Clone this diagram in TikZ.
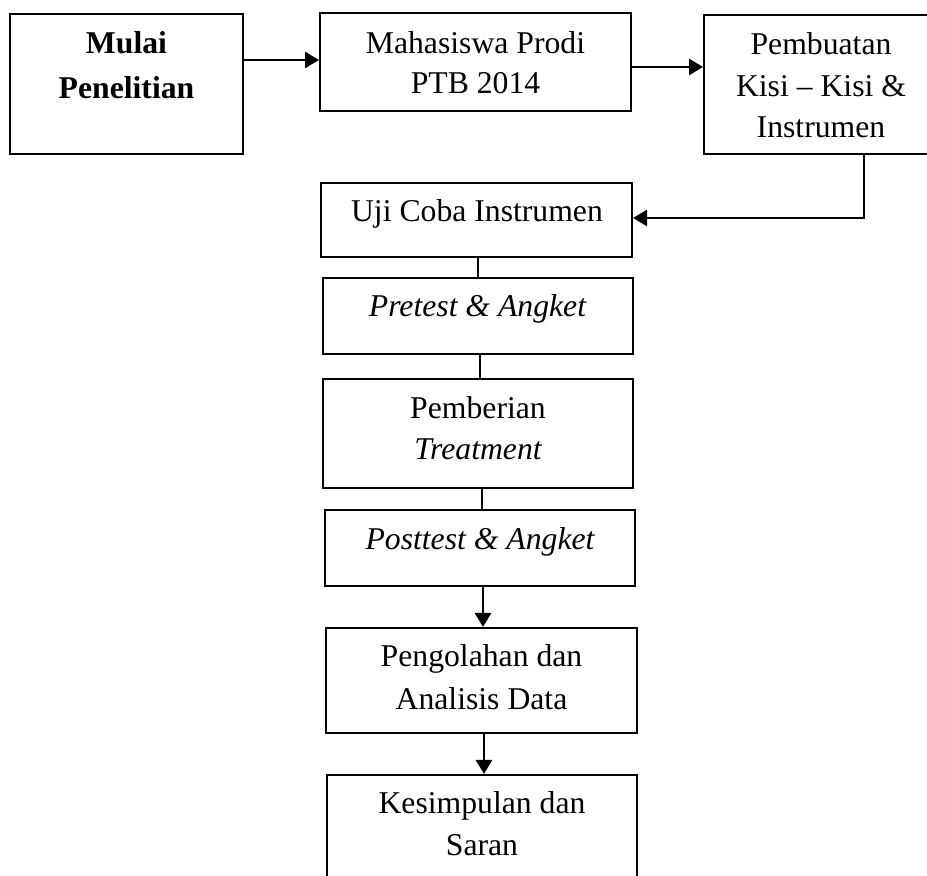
\documentclass[tikz,border=0pt]{standalone}
\usepackage{fontspec}
\setmainfont{Liberation Serif}
\usetikzlibrary{arrows.meta,fit}
\begin{document}
\begin{tikzpicture}[x=0.5pt,y=-0.5pt,
  box/.style={draw,line width=1pt,inner sep=0pt,fit={#1}},
  txt/.style={anchor=base,inner sep=0pt,font=\fontsize{15.85}{20.5}\selectfont},
  conn/.style={line width=1.3pt},
  arr/.style={conn,-{Triangle[length=7pt,width=8pt]}}]
\useasboundingbox (0,0) rectangle (927,876);
\clip (0,0) rectangle (927,876);
% boxes
\node[box={(10,14)(243,154)}] (b1) {};
\node[box={(320,13)(631,111)}] (b2) {};
\node[box={(704,15)(938,154)}] (b3) {};
\node[box={(321,183)(632,257)}] (b4) {};
\node[box={(323,278)(633,354)}] (b5) {};
\node[box={(323,379)(633,488)}] (b6) {};
\node[box={(325,510)(635,586)}] (b7) {};
\node[box={(326,628)(637,733)}] (b8) {};
\node[box={(327,775)(637,900)}] (b9) {};
% texts
\node[txt] (t1a) at (126.5,54) {\bfseries Mulai};
\node[txt] (t1b) at (126.5,99) {\bfseries Penelitian};
\node[txt] (t2a) at (475.5,54) {Mahasiswa Prodi};
\node[txt] (t2b) at (475.5,94) {PTB 2014};
\node[txt] (t3a) at (821,55) {Pembuatan};
\node[txt] (t3b) at (821,97) {Kisi -- Kisi \&};
\node[txt] (t3c) at (821,138) {Instrumen};
\node[txt] (t4) at (477,222) {Uji Coba Instrumen};
\node[txt] (t5) at (477.5,317) {\itshape Pretest \& Angket};
\node[txt] (t6a) at (478,419) {Pemberian};
\node[txt] (t6b) at (478,460) {\itshape Treatment};
\node[txt] (t7) at (480,550) {\itshape Posttest \& Angket};
\node[txt] (t8a) at (481.5,667) {Pengolahan dan};
\node[txt] (t8b) at (481.5,710) {Analisis Data};
\node[txt] (t9a) at (482,813) {Kesimpulan dan};
\node[txt] (t9b) at (482,856) {Saran};
% helper coordinates
\coordinate (y60) at (0,60);
\coordinate (y67) at (0,67);
\coordinate (x864) at (864,0);
\coordinate (x478) at (478,0);
\coordinate (x480) at (480,0);
\coordinate (x482) at (482,0);
\coordinate (x483) at (483,0);
\coordinate (x484) at (484,0);
\coordinate (bend) at (864,218);
% connectors
\draw[arr] (b1.east |- y60) -- (b2.west |- y60);
\draw[arr] (b2.east |- y67) -- (b3.west |- y67);
\draw[arr] (b3.south -| x864) -- (bend) -- (b4.east |- bend);
\draw[conn] (b4.south -| x478) -- (b5.north -| x478);
\draw[conn] (b5.south -| x480) -- (b6.north -| x480);
\draw[conn] (b6.south -| x482) -- (b7.north -| x482);
\draw[arr] (b7.south -| x483) -- (b8.north -| x483);
\draw[arr] (b8.south -| x484) -- (b9.north -| x484);
\end{tikzpicture}
\end{document}
